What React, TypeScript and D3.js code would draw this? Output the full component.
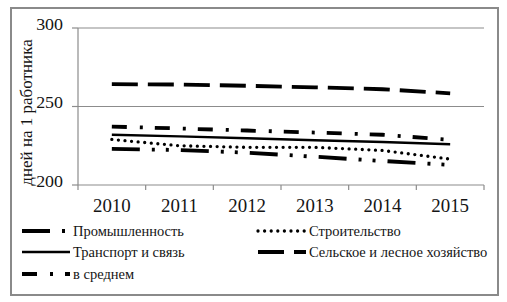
import React from 'react';
import * as d3 from 'd3';

const years = ['2010', '2011', '2012', '2013', '2014', '2015'];
const yTicks = [200, 250, 300];

const promValues = [223, 222.3, 220.6, 218, 215.3, 212.8];
const stroyValues = [229, 225, 224, 224, 222, 216.5];
const transValues = [232, 231, 229.8, 228.5, 227.4, 226];
const selValues = [264.2, 264, 263.2, 262.2, 261, 258.4];
const avgValues = [237.2, 236, 234.7, 233.4, 232, 228.8];

const seriesNames = [
  'Промышленность',
  'Строительство',
  'Транспорт и связь',
  'Сельское и лесное хозяйство',
  'в среднем',
];

const series = [
  { name: seriesNames[0], values: promValues, width: 3.8, dash: '28 12 3 11 3 12', cap: 'butt' },
  { name: seriesNames[1], values: stroyValues, width: 3.3, dash: '0 6.6', cap: 'round' },
  { name: seriesNames[2], values: transValues, width: 2.4, dash: null, cap: 'butt' },
  { name: seriesNames[3], values: selValues, width: 3.8, dash: '26 10', cap: 'butt' },
  { name: seriesNames[4], values: avgValues, width: 3.8, dash: '15 13 3 12', cap: 'butt' },
];

// legend layout: sample start, sample length, row y
const legendPos = [
  { x: 22, len: 48, y: 231 },
  { x: 258, len: 48, y: 231 },
  { x: 22, len: 48, y: 252 },
  { x: 258, len: 48, y: 252 },
  { x: 22, len: 48, y: 274 },
];

const W = 507;
const H = 302;
const plot = { left: 78, right: 484, top: 28, bottom: 185 };
const fontCss = "'Liberation Serif', 'DejaVu Serif', serif";
const ink = '#151515';
const gridColor = '#8c8c8c';

const stretch = (cx: number, k: number) => `translate(${cx},0) scale(${k},1) translate(${-cx},0)`;

export default function App() {
  const x = d3.scaleBand<string>().domain(years).range([plot.left, plot.right]);
  const y = d3.scaleLinear().domain([200, 300]).range([plot.bottom, plot.top]);
  const line = d3
    .line<number>()
    .x((_, i) => (x(years[i]) as number) + x.bandwidth() / 2)
    .y((d) => y(d));

  const boundaries = years.map((yr) => x(yr) as number).concat([plot.right]);

  return (
    <svg
      width={W}
      height={H}
      style={{ position: 'absolute', left: 0, top: 0, background: '#fff', fontFamily: fontCss }}
    >
      <rect x={0} y={0} width={W} height={H} fill="#fff" />
      <rect x={11} y={8} width={487} height={287} fill="none" stroke="#8a8a8a" strokeWidth={2} />

      {/* gridlines */}
      {yTicks.filter((t) => t > 200).map((t) => (
        <line key={t} x1={plot.left} x2={plot.right} y1={y(t)} y2={y(t)} stroke={gridColor} strokeWidth={1.2} />
      ))}

      {/* y axis */}
      <line x1={plot.left} x2={plot.left} y1={plot.top} y2={plot.bottom} stroke={gridColor} strokeWidth={1.2} />
      {yTicks.map((t) => (
        <g key={t}>
          <line x1={plot.left - 6} x2={plot.left} y1={y(t)} y2={y(t)} stroke={gridColor} strokeWidth={1.2} />
          <text
            x={plot.left - 15}
            y={y(t) + 2}
            textAnchor="end"
            style={{ fontFamily: fontCss, fontSize: 16 }}
            fill={ink}
            transform={stretch(plot.left - 15, 1.12)}
          >
            {t}
          </text>
        </g>
      ))}

      {/* x axis */}
      <line x1={plot.left} x2={plot.right} y1={plot.bottom} y2={plot.bottom} stroke={gridColor} strokeWidth={1.2} />
      {boundaries.map((b, i) => (
        <line key={i} x1={b} x2={b} y1={plot.bottom} y2={plot.bottom + 5} stroke={gridColor} strokeWidth={1.2} />
      ))}
      {years.map((yr) => {
        const cx = (x(yr) as number) + x.bandwidth() / 2;
        return (
          <text
            key={yr}
            x={cx}
            y={212}
            textAnchor="middle"
            style={{ fontFamily: fontCss, fontSize: 18 }}
            fill={ink}
            transform={stretch(cx, 1.05)}
          >
            {yr}
          </text>
        );
      })}

      {/* y title */}
      <text
        transform={`translate(32, ${(plot.top + plot.bottom) / 2 + 6}) rotate(-90)`}
        textAnchor="middle"
        style={{ fontFamily: fontCss, fontSize: 17 }}
        fill={ink}
      >
        {'дней  на 1 работника'}
      </text>

      {/* series */}
      {series.map((s) => (
        <path
          key={s.name}
          d={line(s.values) as string}
          fill="none"
          stroke="#000"
          strokeWidth={s.width}
          strokeDasharray={s.dash ?? undefined}
          strokeLinecap={s.cap as 'butt' | 'round'}
        />
      ))}

      {/* legend */}
      {series.map((s, i) => {
        const p = legendPos[i];
        const tx = p.x + p.len + 3;
        return (
          <g key={s.name}>
            <line
              x1={p.x}
              x2={p.x + p.len}
              y1={p.y}
              y2={p.y}
              stroke="#000"
              strokeWidth={s.width}
              strokeDasharray={s.dash ?? undefined}
              strokeLinecap={s.cap as 'butt' | 'round'}
            />
            <text
              x={tx}
              y={p.y + 5}
              style={{ fontFamily: fontCss, fontSize: 14.5 }}
              fill={ink}
            >
              {s.name}
            </text>
          </g>
        );
      })}
    </svg>
  );
}
